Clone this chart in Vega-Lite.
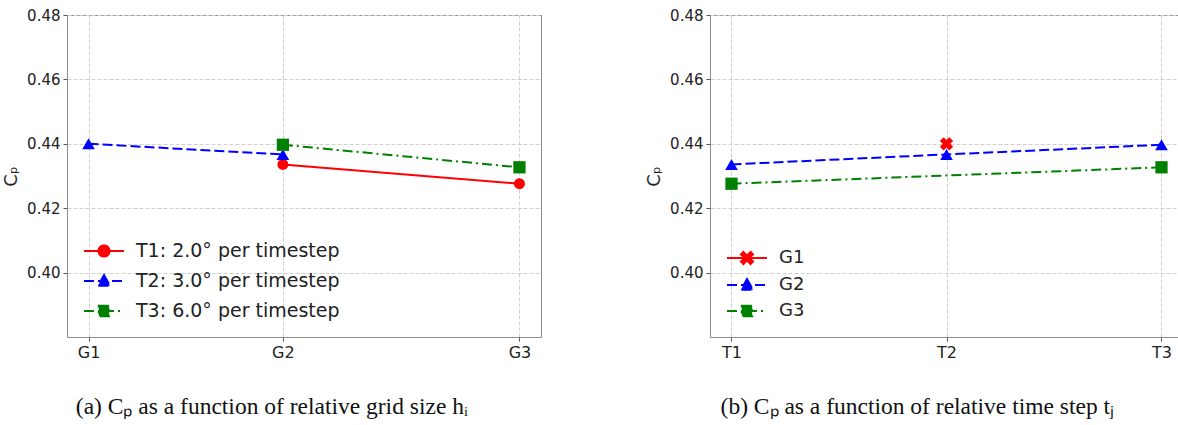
{
  "$schema": "https://vega.github.io/schema/vega-lite/v6.json",
  "padding": {"left": 2, "top": 7, "right": 0, "bottom": 0},
  "background": "white",
  "spacing": 103,
  "config": {
    "view": {"stroke": "#8c8c8c", "strokeWidth": 1},
    "axis": {
      "labelFont": "DejaVu Sans", "labelFontSize": 15, "labelColor": "#222",
      "tickColor": "#555", "tickSize": 4, "labelPadding": 3, "domain": false,
      "gridColor": "#d0d0d0", "gridDash": [4, 2], "gridWidth": 1,
      "titleFont": "DejaVu Sans", "titleFontSize": 18, "titleFontWeight": "normal", "titleColor": "#222"
    },
    "legend": {"title": null, "orient": "bottom-left", "offset": 12, "symbolSize": 400, "symbolOffset": 10, "symbolStrokeWidth": 2, "labelFontSize": 18, "labelFont": "DejaVu Sans", "labelColor": "#222", "labelOffset": 21, "labelLimit": 400, "padding": 4, "symbolOpacity": 1}
  },
  "resolve": {
    "scale": {"x": "independent", "y": "independent", "fill": "independent", "stroke": "independent", "shape": "independent", "strokeDash": "independent"},
    "legend": {"fill": "independent", "stroke": "independent", "shape": "independent", "strokeDash": "independent"}
  },
  "datasets": {
    "grid": [
      {"series": "T1: 2.0° per timestep", "grid": "G2", "h": 1.451, "cp": 0.4336},
      {"series": "T1: 2.0° per timestep", "grid": "G3", "h": 2.0, "cp": 0.4276},
      {"series": "T2: 3.0° per timestep", "grid": "G1", "h": 1.0, "cp": 0.4400},
      {"series": "T2: 3.0° per timestep", "grid": "G2", "h": 1.451, "cp": 0.4367},
      {"series": "T3: 6.0° per timestep", "grid": "G2", "h": 1.451, "cp": 0.4397},
      {"series": "T3: 6.0° per timestep", "grid": "G3", "h": 2.0, "cp": 0.4327}
    ],
    "time": [
      {"series": "G1", "step": "T2", "t": 2, "cp": 0.4400},
      {"series": "G2", "step": "T1", "t": 1, "cp": 0.4336},
      {"series": "G2", "step": "T2", "t": 2, "cp": 0.4367},
      {"series": "G2", "step": "T3", "t": 3, "cp": 0.4397},
      {"series": "G3", "step": "T1", "t": 1, "cp": 0.4276},
      {"series": "G3", "step": "T3", "t": 3, "cp": 0.4327}
    ]
  },
  "hconcat": [
    {
      "width": 474, "height": 322,
      "data": {"name": "grid"},
      "title": {"text": "(a) Cₚ as a function of relative grid size hᵢ", "orient": "bottom", "frame": "bounds", "anchor": "middle", "dx": 0, "font": "Liberation Serif", "fontSize": 23.5, "fontWeight": "normal", "color": "#111", "offset": 35},
      "encoding": {
        "x": {"field": "h", "type": "quantitative", "scale": {"domain": [0.95, 2.05], "nice": false, "zero": false},
              "axis": {"values": [1, 1.451, 2], "labelExpr": "datum.value < 1.2 ? 'G1' : datum.value < 1.7 ? 'G2' : 'G3'", "title": null, "labelFontSize": 16}},
        "y": {"field": "cp", "type": "quantitative", "scale": {"domain": [0.38, 0.48], "nice": false, "zero": false},
              "axis": {"values": [0.40, 0.42, 0.44, 0.46, 0.48], "format": ".2f", "title": "Cₚ", "titlePadding": 6}}
      },
      "layer": [
        {
          "transform": [{"filter": {"field": "series", "equal": "T1: 2.0° per timestep"}}],
          "mark": {"type": "line", "strokeWidth": 2, "color": "#ff0000", "point": {"shape": "circle", "filled": true, "color": "#ff0000", "size": 120, "opacity": 1}}
        },
        {
          "transform": [{"filter": {"field": "series", "equal": "T2: 3.0° per timestep"}}],
          "mark": {"type": "line", "strokeWidth": 2, "color": "#0000ff", "strokeDash": [10, 4], "point": {"shape": "triangle-up", "filled": true, "color": "#0000ff", "size": 160, "opacity": 1, "strokeDash": [1, 0]}}
        },
        {
          "transform": [{"filter": {"field": "series", "equal": "T3: 6.0° per timestep"}}],
          "mark": {"type": "line", "strokeWidth": 2, "color": "#008000", "strokeDash": [10, 4, 2, 4], "point": {"shape": "square", "filled": true, "color": "#008000", "size": 150, "opacity": 1, "strokeDash": [1, 0]}}
        },
        {
          "mark": {"type": "point", "opacity": 0, "strokeWidth": 2},
          "encoding": {
            "fill": {"field": "series", "type": "nominal", "scale": {"domain": ["T1: 2.0° per timestep", "T2: 3.0° per timestep", "T3: 6.0° per timestep"], "range": ["#ff0000", "#0000ff", "#008000"]}, "legend": {"rowPadding": 9, "labelFontSize": 19}},
            "stroke": {"field": "series", "type": "nominal", "scale": {"domain": ["T1: 2.0° per timestep", "T2: 3.0° per timestep", "T3: 6.0° per timestep"], "range": ["#ff0000", "#0000ff", "#008000"]}, "legend": {"rowPadding": 9, "labelFontSize": 19}},
            "shape": {"field": "series", "type": "nominal", "scale": {"domain": ["T1: 2.0° per timestep", "T2: 3.0° per timestep", "T3: 6.0° per timestep"], "range": ["M-2,0H2M0.56,0A0.56,0.56,0,1,1,-0.56,0A0.56,0.56,0,1,1,0.56,0Z", "M-2,0H2M0,-0.6L0.6,0.48L-0.6,0.48Z", "M-2,0H2M-0.52,-0.52H0.52V0.52H-0.52Z"]}, "legend": {"rowPadding": 9, "labelFontSize": 19}},
            "strokeDash": {"field": "series", "type": "nominal", "scale": {"domain": ["T1: 2.0° per timestep", "T2: 3.0° per timestep", "T3: 6.0° per timestep"], "range": [[1, 0], [10, 4], [10, 4, 2, 4]]}, "legend": {"rowPadding": 9, "labelFontSize": 19}}
          }
        }
      ]
    },
    {
      "width": 473, "height": 322,
      "data": {"name": "time"},
      "title": {"text": "(b) Cₚ as a function of relative time step tⱼ", "orient": "bottom", "frame": "bounds", "anchor": "middle", "dx": 3, "font": "Liberation Serif", "fontSize": 23.5, "fontWeight": "normal", "color": "#111", "offset": 35},
      "encoding": {
        "x": {"field": "t", "type": "quantitative", "scale": {"domain": [0.9, 3.1], "nice": false, "zero": false},
              "axis": {"values": [1, 2, 3], "labelExpr": "'T' + datum.value", "title": null, "labelFontSize": 16}},
        "y": {"field": "cp", "type": "quantitative", "scale": {"domain": [0.38, 0.48], "nice": false, "zero": false},
              "axis": {"values": [0.40, 0.42, 0.44, 0.46, 0.48], "format": ".2f", "title": "Cₚ", "titlePadding": 6}}
      },
      "layer": [
        {
          "transform": [{"filter": {"field": "series", "equal": "G1"}}],
          "mark": {"type": "line", "strokeWidth": 2, "color": "#ff0000", "point": {"shape": "cross", "angle": 45, "filled": true, "color": "#ff0000", "size": 180, "opacity": 1}}
        },
        {
          "transform": [{"filter": {"field": "series", "equal": "G2"}}],
          "mark": {"type": "line", "strokeWidth": 2, "color": "#0000ff", "strokeDash": [10, 4], "point": {"shape": "triangle-up", "filled": true, "color": "#0000ff", "size": 160, "opacity": 1, "strokeDash": [1, 0]}}
        },
        {
          "transform": [{"filter": {"field": "series", "equal": "G3"}}],
          "mark": {"type": "line", "strokeWidth": 2, "color": "#008000", "strokeDash": [10, 4, 2, 4], "point": {"shape": "square", "filled": true, "color": "#008000", "size": 150, "opacity": 1, "strokeDash": [1, 0]}}
        },
        {
          "mark": {"type": "point", "opacity": 0, "strokeWidth": 2},
          "encoding": {
            "fill": {"field": "series", "type": "nominal", "scale": {"domain": ["G1", "G2", "G3"], "range": ["#ff0000", "#0000ff", "#008000"]}, "legend": {"rowPadding": 6}},
            "stroke": {"field": "series", "type": "nominal", "scale": {"domain": ["G1", "G2", "G3"], "range": ["#ff0000", "#0000ff", "#008000"]}, "legend": {"rowPadding": 6}},
            "shape": {"field": "series", "type": "nominal", "scale": {"domain": ["G1", "G2", "G3"], "range": ["M-2,0H2M-0.6,-0.36L-0.36,-0.6L0,-0.24L0.36,-0.6L0.6,-0.36L0.24,0L0.6,0.36L0.36,0.6L0,0.24L-0.36,0.6L-0.6,0.36L-0.24,0Z", "M-2,0H2M0,-0.6L0.6,0.48L-0.6,0.48Z", "M-2,0H2M-0.52,-0.52H0.52V0.52H-0.52Z"]}, "legend": {"rowPadding": 6}},
            "strokeDash": {"field": "series", "type": "nominal", "scale": {"domain": ["G1", "G2", "G3"], "range": [[1, 0], [10, 4], [10, 4, 2, 4]]}, "legend": {"rowPadding": 6}}
          }
        }
      ]
    }
  ]
}
